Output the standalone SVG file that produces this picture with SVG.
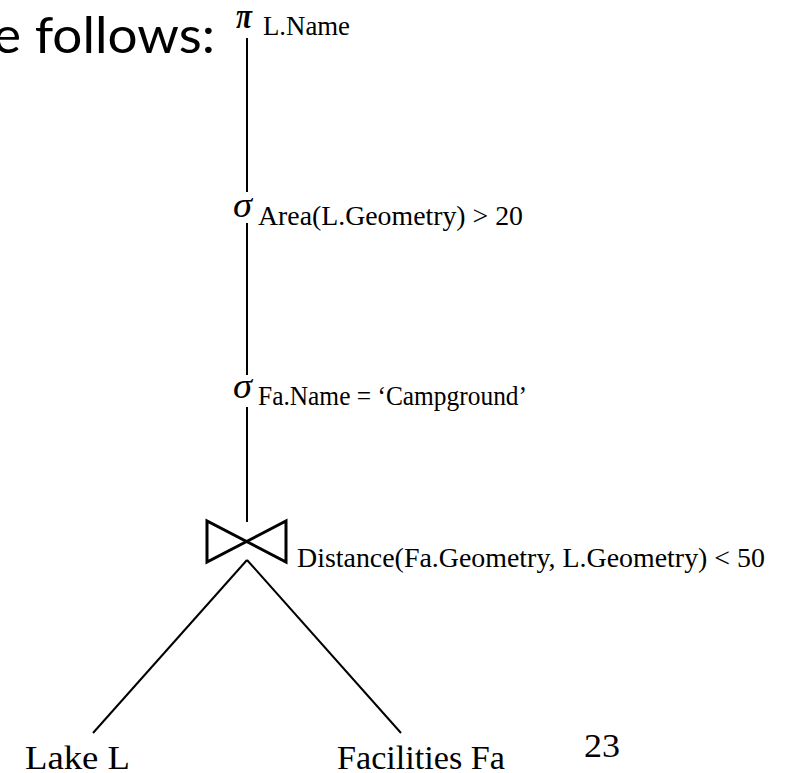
<svg xmlns="http://www.w3.org/2000/svg" width="785" height="773" viewBox="0 0 785 773">
  <style>
    .edge { stroke: #000; stroke-width: 2; fill: none; }
    .op { font-family: "Liberation Serif", "DejaVu Serif", serif; font-style: italic; font-size: 36px; fill: #000; }
    .cond { font-family: "Liberation Serif", "DejaVu Serif", serif; font-size: 27px; fill: #000; }
    .rel { font-family: "Liberation Serif", "DejaVu Serif", serif; font-size: 34px; fill: #000; }
    .title { font-family: "Lato", "Open Sans", "Liberation Sans", sans-serif; font-size: 50px; fill: #000; }
  </style>
  <rect width="785" height="773" fill="#fff"/>

  <!-- slide text fragment and page number -->
  <text class="title" x="-7" y="53" textLength="222" lengthAdjust="spacingAndGlyphs">e follows:</text>
  <text class="rel" x="584" y="757" font-size="40" textLength="36" lengthAdjust="spacingAndGlyphs">23</text>

  <!-- tree edges -->
  <g id="connectors">
    <line class="edge" x1="247" y1="38" x2="247" y2="192"/>
    <line class="edge" x1="247" y1="223" x2="247" y2="375"/>
    <line class="edge" x1="247" y1="407" x2="247" y2="522"/>
    <line class="edge" x1="247" y1="560" x2="93" y2="733"/>
    <line class="edge" x1="247" y1="560" x2="401" y2="733"/>
  </g>

  <!-- projection -->
  <g id="project">
    <text class="op" x="236" y="28" font-weight="bold" textLength="16" lengthAdjust="spacingAndGlyphs">π</text>
    <text class="cond" x="263" y="35" textLength="87" lengthAdjust="spacingAndGlyphs">L.Name</text>
  </g>

  <!-- selection on area -->
  <g id="select-area">
    <text class="op" x="233" y="217" textLength="19" lengthAdjust="spacingAndGlyphs">σ</text>
    <text class="cond" x="258" y="225" textLength="265" lengthAdjust="spacingAndGlyphs">Area(L.Geometry) &gt; 20</text>
  </g>

  <!-- selection on facility name -->
  <g id="select-name">
    <text class="op" x="233" y="398" textLength="19" lengthAdjust="spacingAndGlyphs">σ</text>
    <text class="cond" x="258" y="405" textLength="269" lengthAdjust="spacingAndGlyphs">Fa.Name = ‘Campground’</text>
  </g>

  <!-- join -->
  <g id="join">
    <path d="M207 521 L207 562 L286 521 L286 562 Z" fill="none" stroke="#000" stroke-width="3" stroke-linejoin="miter"/>
    <text class="cond" x="297" y="567" textLength="468" lengthAdjust="spacingAndGlyphs">Distance(Fa.Geometry, L.Geometry) &lt; 50</text>
  </g>

  <!-- base relations -->
  <g id="lake">
    <text class="rel" x="25" y="769" textLength="105" lengthAdjust="spacingAndGlyphs">Lake L</text>
  </g>
  <g id="facilities">
    <text class="rel" x="337" y="769" textLength="168" lengthAdjust="spacingAndGlyphs">Facilities Fa</text>
  </g>
</svg>
